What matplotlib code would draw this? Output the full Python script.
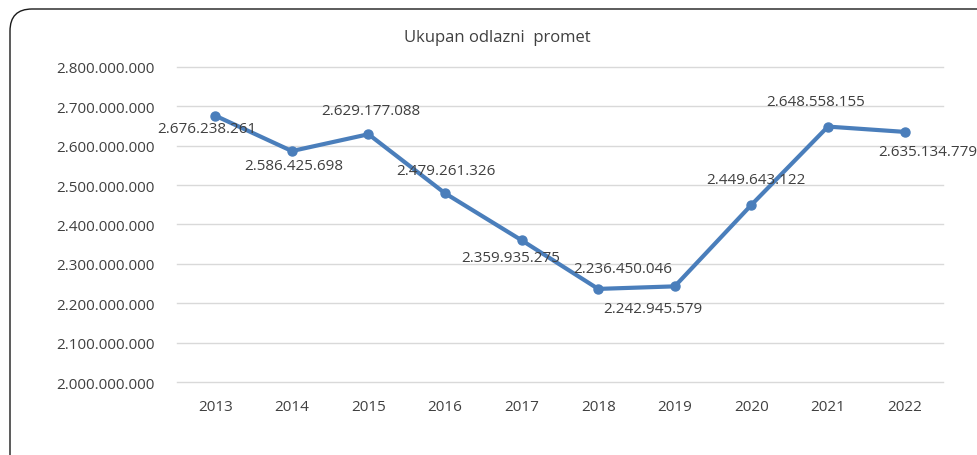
import matplotlib
matplotlib.use("Agg")
import matplotlib.pyplot as plt
from matplotlib.patches import FancyBboxPatch
from matplotlib.ticker import FuncFormatter, MultipleLocator

godine = ["2013", "2014", "2015", "2016", "2017", "2018", "2019", "2020", "2021", "2022"]
promet = [2676238261, 2586425698, 2629177088, 2479261326, 2359935275,
          2236450046, 2242945579, 2449643122, 2648558155, 2635134779]
naslov = "Ukupan odlazni  promet"

# pomak oznaka (px) u odnosu na tocku
pomak_x = [-8, 2, 2, 1, -11, 25, -22, 5, -12, 23]
pomak_y = [-13, -14, 24, 23, -17, 20, -22, 25, 25, -20]

plt.rcParams['font.family'] = ['Open Sans', 'DejaVu Sans']

def fmt(v, pos=None):
    return f"{v:,.0f}".replace(",", ".")

fig = plt.figure(figsize=(9.78, 4.56), dpi=100)
ax = fig.add_axes([0.181, 0.160, 0.783, 0.691])

okvir = FancyBboxPatch((10, -40), 1010, 486, boxstyle="round,pad=0,rounding_size=22",
                       transform=None, fill=False, edgecolor="#1a1a1a", linewidth=1.0)
fig.patches.append(okvir)

x = list(range(len(godine)))
ax.plot(x, promet, color="#4A7EBB", linewidth=3.0, marker="o", markersize=6.5, zorder=3)

for i, v in enumerate(promet):
    ax.annotate(fmt(v), (x[i], v), xytext=(pomak_x[i], pomak_y[i]), textcoords="offset pixels",
                ha="center", va="center", fontsize=11, color="#404040", zorder=4)

ax.set_xlim(-0.5, len(godine) - 0.5)
ax.set_ylim(2.0e9, 2.8e9)
ax.yaxis.set_major_locator(MultipleLocator(1e8))
ax.yaxis.set_major_formatter(FuncFormatter(fmt))
ax.set_xticks(x)
ax.set_xticklabels(godine)
ax.grid(axis="y", color="#d9d9d9", linewidth=1.0)
for g in ax.get_ygridlines():
    g.set_clip_on(False)
ax.set_axisbelow(True)
for s in ax.spines.values():
    s.set_visible(False)
ax.tick_params(axis="both", length=0, labelsize=11, colors="#404040")
ax.tick_params(axis="y", pad=16)
ax.tick_params(axis="x", pad=12)

fig.text(0.508, 0.916, naslov, ha="center", va="center", fontsize=12, color="#404040")

fig.savefig("out.png", dpi=100)
